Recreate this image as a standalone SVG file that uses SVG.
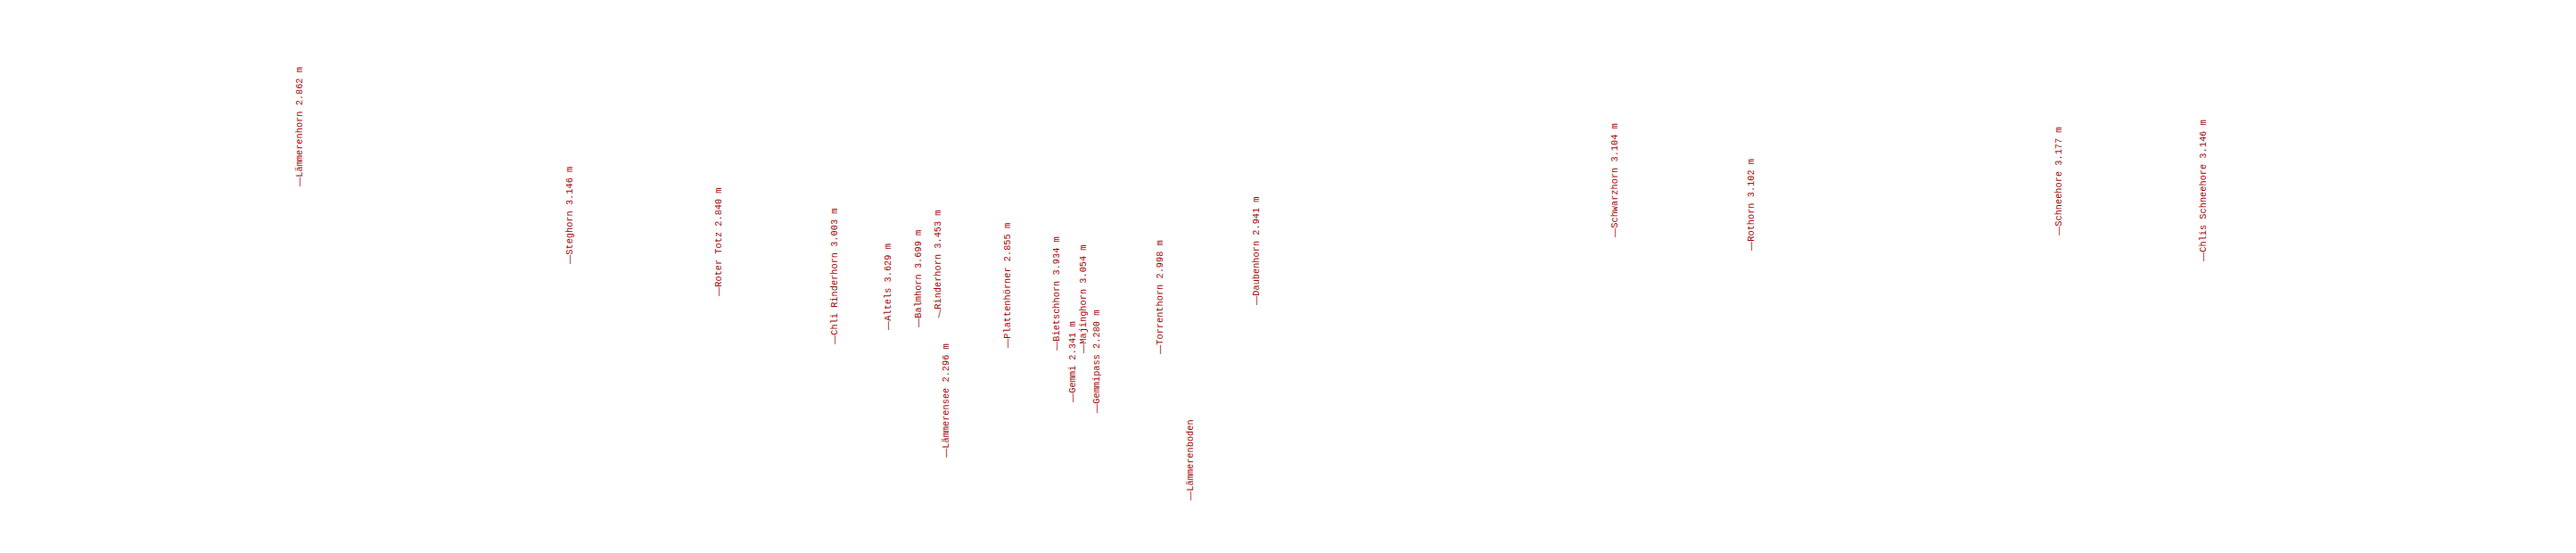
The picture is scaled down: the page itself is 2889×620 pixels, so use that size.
<svg xmlns="http://www.w3.org/2000/svg" width="2889" height="620" viewBox="0 0 2889 620">
<style>
.lbl{font-family:"Liberation Mono","DejaVu Sans Mono",monospace;font-size:10.3px;fill:#a00000}
.d{font-family:"Liberation Sans","DejaVu Sans",sans-serif}
</style>
<rect width="2889" height="620" fill="#ffffff"/>
<g id="connectors"></g>
<g id="n-laemmerenhorn"><text class="lbl" transform="translate(339,209) rotate(-90)"><tspan class="d">—</tspan>Lämmerenhorn 2.862 m</text></g>
<g id="n-steghorn"><text class="lbl" transform="translate(642,296) rotate(-90)"><tspan class="d">—</tspan>Steghorn 3.146 m</text></g>
<g id="n-rotertotz"><text class="lbl" transform="translate(809,332) rotate(-90)"><tspan class="d">—</tspan>Roter Totz 2.840 m</text></g>
<g id="n-chlirinderhorn"><text class="lbl" transform="translate(939,386) rotate(-90)"><tspan class="d">—</tspan>Chli Rinderhorn 3.003 m</text></g>
<g id="n-altels"><text class="lbl" transform="translate(999,370) rotate(-90)"><tspan class="d">—</tspan>Altels 3.629 m</text></g>
<g id="n-balmhorn"><text class="lbl" transform="translate(1033,367) rotate(-90)"><tspan class="d">—</tspan>Balmhorn 3.699 m</text></g>
<g id="n-rinderhorn"><text class="lbl" transform="translate(1055,357) rotate(-90)"><tspan class="d" rotate="14">—</tspan>Rinderhorn 3.453 m</text></g>
<g id="n-laemmerensee"><text class="lbl" transform="translate(1064,513) rotate(-90)"><tspan class="d">—</tspan>Lämmerensee 2.296 m</text></g>
<g id="n-plattenhoerner"><text class="lbl" transform="translate(1133,390) rotate(-90)"><tspan class="d">—</tspan>Plattenhörner 2.855 m</text></g>
<g id="n-bietschhorn"><text class="lbl" transform="translate(1188,393) rotate(-90)"><tspan class="d">—</tspan>Bietschhorn 3.934 m</text></g>
<g id="n-gemmi"><text class="lbl" transform="translate(1206,451) rotate(-90)"><tspan class="d">—</tspan>Gemmi 2.341 m</text></g>
<g id="n-majinghorn"><text class="lbl" transform="translate(1218,396) rotate(-90)"><tspan class="d">—</tspan>Majinghorn 3.054 m</text></g>
<g id="n-gemmipass"><text class="lbl" transform="translate(1233,463) rotate(-90)"><tspan class="d">—</tspan>Gemmipass 2.280 m</text></g>
<g id="n-torrenthorn"><text class="lbl" transform="translate(1304,397) rotate(-90)"><tspan class="d">—</tspan>Torrenthorn 2.998 m</text></g>
<g id="n-laemmerenboden"><text class="lbl" transform="translate(1338,561) rotate(-90)"><tspan class="d">—</tspan>Lämmerenboden</text></g>
<g id="n-daubenhorn"><text class="lbl" transform="translate(1412,342) rotate(-90)"><tspan class="d">—</tspan>Daubenhorn 2.941 m</text></g>
<g id="n-schwarzhorn"><text class="lbl" transform="translate(1814,266) rotate(-90)"><tspan class="d">—</tspan>Schwarzhorn 3.104 m</text></g>
<g id="n-rothorn"><text class="lbl" transform="translate(1967,281) rotate(-90)"><tspan class="d">—</tspan>Rothorn 3.102 m</text></g>
<g id="n-schneehore"><text class="lbl" transform="translate(2312,264) rotate(-90)"><tspan class="d">—</tspan>Schneehore 3.177 m</text></g>
<g id="n-chlisschneehore"><text class="lbl" transform="translate(2474,293) rotate(-90)"><tspan class="d">—</tspan>Chlis Schneehore 3.146 m</text></g>
</svg>
